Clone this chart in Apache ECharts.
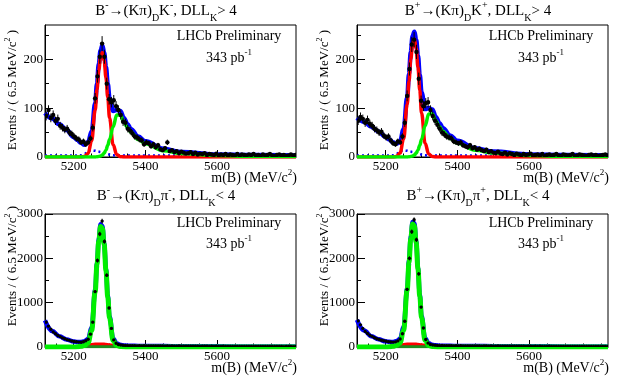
<!DOCTYPE html>
<html>
<head>
<meta charset="utf-8">
<script src="https://cdn.jsdelivr.net/npm/echarts@6.0.0/dist/echarts.min.js"></script>
<style>
  html, body { margin: 0; padding: 0; background: #fff; }
  #chart { width: 623px; height: 376px; }
</style>
</head>
<body>
<div id="chart"></div>
<script>
var serif = "'Liberation Serif', 'Times New Roman', serif";

// histogram binning: 6.5 MeV/c2 bins from 5120
var binStart = 5120, binWidth = 6.5;

// tick labels
var xMajor = [5200, 5400, 5600];
var xMinor = [5150, 5250, 5300, 5350, 5450, 5500, 5550, 5650, 5700, 5750, 5800];
var yMajorTop = [0, 100, 200];
var yMinorTop = [50, 150, 250];
var yMajorBottom = [0, 1000, 2000, 3000];
var yMinorBottom = [500, 1500, 2500];

var panelTitles = [
  '{n|B}{sup|-}{n|→(Kπ)}{sub|D}{n|K}{sup|-}{n|, DLL}{sub|K}{n|> 4}',
  '{n|B}{sup|+}{n|→(Kπ)}{sub|D}{n|K}{sup|+}{n|, DLL}{sub|K}{n|> 4}',
  '{n|B}{sup|-}{n|→(Kπ)}{sub|D}{n|π}{sup|-}{n|, DLL}{sub|K}{n|< 4}',
  '{n|B}{sup|+}{n|→(Kπ)}{sub|D}{n|π}{sup|+}{n|, DLL}{sub|K}{n|< 4}'
];

// data: events per bin
var dkmData = [84, 96, 80, 86, 74, 78, 64, 60, 56, 58,
  50, 47, 42, 38, 36, 30, 32, 26, 30, 38,
  60, 120, 165, 205, 232, 205, 150, 118, 112, 116,
  104, 96, 86, 72, 70, 58, 54, 48, 42, 40,
  36, 34, 26, 30, 28, 22, 26, 20, 24, 16,
  14, 18, 30, 12, 14, 10, 12, 8, 11, 9,
  7, 8, 10, 6, 9, 5, 7, 6, 8, 4,
  6, 5, 4, 7, 3, 5, 4, 6, 3, 5,
  4, 3, 6, 2, 5, 4, 3, 5, 4, 6,
  3, 4, 2, 5, 3, 4, 6, 3, 2, 4,
  5, 3, 4, 2, 3, 5, 3, 4];
var dkpData = [74, 82, 78, 70, 76, 68, 64, 58, 55, 50,
  52, 44, 40, 42, 34, 28, 26, 32, 30, 42,
  70, 125, 180, 230, 240, 215, 160, 115, 104, 110,
  112, 96, 84, 74, 66, 58, 50, 46, 42, 40,
  38, 32, 30, 28, 30, 24, 22, 20, 24, 18,
  20, 15, 17, 14, 12, 15, 10, 12, 9, 8,
  11, 7, 6, 9, 5, 8, 6, 4, 7, 5,
  3, 6, 4, 5, 7, 3, 4, 5, 3, 6,
  2, 4, 5, 3, 4, 6, 3, 2, 5, 4,
  3, 4, 6, 2, 3, 5, 4, 3, 2, 4,
  5, 3, 4, 2, 3, 4, 5, 3];
var dpimData = [560, 470, 400, 340, 300, 260, 235, 205, 185, 165,
  150, 135, 125, 118, 110, 108, 118, 140, 175, 290,
  560, 1250, 1950, 2550, 2840, 2380, 1620, 880, 420, 160,
  85, 55, 45, 38, 34, 30, 32, 28, 30, 26,
  28, 25, 27, 24, 26, 22, 25, 23, 21, 24,
  22, 20, 23, 19, 21, 20, 18, 21, 19, 17,
  20, 18, 16, 19, 17, 18, 15, 17, 16, 18,
  15, 16, 14, 17, 15, 13, 16, 14, 15, 13,
  14, 12, 15, 13, 14, 12, 13, 11, 14, 12,
  13, 11, 12, 10, 13, 11, 12, 10, 11, 12,
  10, 11, 9, 12, 10, 11, 9, 10];
var dpipData = [590, 500, 420, 350, 305, 265, 240, 210, 185, 170,
  152, 140, 130, 120, 112, 110, 116, 138, 180, 300,
  580, 1300, 2000, 2600, 2870, 2420, 1650, 900, 430, 170,
  88, 58, 46, 40, 35, 31, 33, 29, 30, 27,
  29, 26, 28, 25, 27, 23, 26, 24, 22, 25,
  23, 21, 24, 20, 22, 21, 19, 22, 20, 18,
  21, 19, 17, 20, 18, 19, 16, 18, 17, 19,
  16, 17, 15, 18, 16, 14, 17, 15, 16, 14,
  15, 13, 16, 14, 15, 13, 14, 12, 15, 13,
  14, 12, 13, 11, 14, 12, 13, 11, 12, 13,
  11, 12, 10, 13, 11, 12, 10, 11];

// fit curves, read at these masses
var curveMass = [5120, 5140, 5160, 5180, 5200, 5210, 5220, 5230, 5240, 5250,
  5260, 5265, 5270, 5275, 5280, 5285, 5290, 5295, 5300, 5310,
  5320, 5330, 5340, 5350, 5360, 5380, 5400, 5450, 5500, 5600, 5700, 5820];

var dkmTotal = [90, 79, 67, 55, 41, 35, 29, 25, 30, 52, 110, 150, 190, 218, 228, 213, 184, 150, 120, 94, 96, 94, 80, 67, 57, 42, 32, 17, 10, 5, 4, 3];
var dkmRed = [0, 0, 0, 0, 0, 0, 0, 1, 7, 33, 96, 138, 178, 206, 214, 197, 163, 122, 80, 25, 5, 0.7, 0, 0, 0, 0, 0, 0, 0, 0, 0, 0];
var dkmGreen = [0, 0, 0, 0, 0, 0, 0, 0, 0, 0, 0, 0.5, 1, 2, 4, 8, 14, 24, 36, 62, 86, 86, 72, 60, 50, 36, 27, 13, 7, 3, 1.5, 1];
var dkmBkg = [3, 3, 3, 3, 3, 3, 3.5, 6, 12, 14, 13, 12, 11, 10, 9, 8, 7, 6, 5, 3.5, 3, 3, 3, 3, 3, 3, 3, 3, 3, 3, 3, 3];

var dkpTotal = [80, 72, 62, 52, 41, 36, 30, 27, 32, 57, 122, 170, 215, 247, 256, 240, 207, 168, 132, 98, 100, 97, 82, 69, 59, 44, 33, 18, 11, 5, 4, 3];
var dkpRed = [0, 0, 0, 0, 0, 0, 0, 1, 8, 37, 108, 155, 200, 232, 241, 222, 184, 137, 90, 28, 6, 1, 0, 0, 0, 0, 0, 0, 0, 0, 0, 0];
var dkpGreen = [0, 0, 0, 0, 0, 0, 0, 0, 0, 0, 0, 0.5, 1, 2, 4, 8, 14, 24, 36, 64, 88, 88, 74, 62, 52, 38, 28, 14, 8, 3, 1.5, 1];
var dkpBkg = [3, 3, 3, 3, 3, 3, 3.5, 6, 12, 14, 13, 12, 11, 10, 9, 8, 7, 6, 5, 3.5, 3, 3, 3, 3, 3, 3, 3, 3, 3, 3, 3, 3];

var dpimTotal = [600, 360, 240, 170, 125, 115, 112, 130, 180, 430, 1290, 1900, 2440, 2770, 2730, 2350, 1770, 1170, 690, 190, 80, 48, 36, 30, 28, 25, 22, 20, 18, 15, 12, 10];
var dpimGreen = [0, 0, 0, 0, 0, 5, 15, 35, 90, 370, 1250, 1860, 2400, 2720, 2680, 2310, 1730, 1130, 650, 140, 35, 12, 4, 1, 0, 0, 0, 0, 0, 0, 0, 0];
var dpimRed = [0, 0, 0, 0, 0, 2, 10, 24, 40, 52, 60, 62, 64, 64, 62, 60, 56, 50, 44, 32, 22, 14, 8, 3, 0, 0, 0, 0, 0, 0, 0, 0];
var dpimBkg = [10, 10, 10, 10, 12, 14, 18, 24, 30, 36, 40, 40, 40, 40, 40, 38, 36, 34, 32, 26, 20, 15, 12, 10, 10, 10, 10, 10, 10, 10, 10, 10];
var dpimComb = [8, 8, 8, 8, 8, 8, 8, 8, 8, 8, 8, 8, 8, 8, 8, 8, 8, 8, 8, 8, 8, 8, 8, 8, 8, 8, 8, 8, 8, 8, 8, 8];

var dpipTotal = [610, 370, 245, 172, 127, 117, 114, 133, 185, 445, 1320, 1940, 2490, 2820, 2790, 2400, 1800, 1190, 700, 195, 82, 50, 37, 31, 29, 26, 23, 21, 19, 16, 13, 11];
var dpipGreen = [0, 0, 0, 0, 0, 5, 15, 35, 92, 380, 1280, 1900, 2450, 2775, 2735, 2355, 1765, 1150, 660, 145, 36, 12, 4, 1, 0, 0, 0, 0, 0, 0, 0, 0];
var dpipRed = [0, 0, 0, 0, 0, 2, 10, 24, 40, 52, 60, 62, 64, 64, 62, 60, 56, 50, 44, 32, 22, 14, 8, 3, 0, 0, 0, 0, 0, 0, 0, 0];
var dpipBkg = [10, 10, 10, 10, 12, 14, 18, 24, 30, 36, 40, 40, 40, 40, 40, 38, 36, 34, 32, 26, 20, 15, 12, 10, 10, 10, 10, 10, 10, 10, 10, 10];
var dpipComb = [8, 8, 8, 8, 8, 8, 8, 8, 8, 8, 8, 8, 8, 8, 8, 8, 8, 8, 8, 8, 8, 8, 8, 8, 8, 8, 8, 8, 8, 8, 8, 8];

var panels = [
  { left: 45, top: 25, height: 132, yMax: 270, yMajor: yMajorTop, yMinor: yMinorTop, greenWidth: 3.5, dot: 2.2,
    data: dkmData, total: dkmTotal, red: dkmRed, green: dkmGreen, bkg: dkmBkg, comb: null },
  { left: 357, top: 25, height: 132, yMax: 270, yMajor: yMajorTop, yMinor: yMinorTop, greenWidth: 3.5, dot: 2.2,
    data: dkpData, total: dkpTotal, red: dkpRed, green: dkpGreen, bkg: dkpBkg, comb: null },
  { left: 45, top: 214, height: 133, yMax: 3000, yMajor: yMajorBottom, yMinor: yMinorBottom, greenWidth: 5, dot: 1.7,
    data: dpimData, total: dpimTotal, red: dpimRed, green: dpimGreen, bkg: dpimBkg, comb: dpimComb },
  { left: 357, top: 214, height: 133, yMax: 3000, yMajor: yMajorBottom, yMinor: yMinorBottom, greenWidth: 5, dot: 1.7,
    data: dpipData, total: dpipTotal, red: dpipRed, green: dpipGreen, bkg: dpipBkg, comb: dpipComb }
];

function richStyle(size) {
  var small = Math.round(size * 0.64);
  return {
    n: { fontFamily: serif, fontSize: size, padding: [4, 0, 0, 0], verticalAlign: 'top' },
    sup: { fontFamily: serif, fontSize: small, padding: [1, 0, 0, 0], verticalAlign: 'top' },
    sub: { fontFamily: serif, fontSize: small, padding: [size - 1, 0, 0, 0], verticalAlign: 'top' }
  };
}

// text whose main line is centred on cy
function label(x, cy, text, size, align, rotate) {
  var el = {
    type: 'text', x: x, y: cy - (4 + size / 2), silent: true,
    style: { text: text, rich: richStyle(size), fill: '#000', align: align, verticalAlign: 'top' }
  };
  if (rotate) {
    el.rotation = Math.PI / 2;
    el.x = x - (4 + size / 2);
    el.y = cy;
  }
  return el;
}

function plain(v) { return String(v); }

var grids = [], xAxes = [], yAxes = [], series = [], graphics = [];

function curve(gi, vals, color, width, dotted, z) {
  return {
    type: 'line', xAxisIndex: gi * 2, yAxisIndex: gi * 2,
    data: curveMass.map(function (m, i) { return [m, vals[i]]; }),
    smooth: 0.4, smoothMonotone: 'x', symbol: 'none', silent: true,
    lineStyle: { color: color, width: width, type: dotted ? [2, 3] : 'solid' },
    z: z
  };
}

panels.forEach(function (p, gi) {
  grids.push({ left: p.left, top: p.top, width: 251, height: p.height,
    show: true, borderColor: '#000', borderWidth: 1, backgroundColor: 'transparent',
    outerBoundsMode: 'none' });

  xAxes.push({ type: 'value', gridIndex: gi, min: 5120, max: 5820, position: 'bottom',
    axisLine: { show: true, onZero: false, lineStyle: { color: '#000', width: 1 } },
    axisTick: { inside: true, length: 7, customValues: xMajor, lineStyle: { color: '#000' } },
    axisLabel: { customValues: xMajor, formatter: plain, color: '#000', fontFamily: serif, fontSize: 13, margin: 3 },
    splitLine: { show: false } });
  xAxes.push({ type: 'value', gridIndex: gi, min: 5120, max: 5820, position: 'bottom',
    axisLine: { show: false, onZero: false }, axisLabel: { show: false },
    axisTick: { inside: true, length: 3.5, customValues: xMinor, lineStyle: { color: '#000' } },
    splitLine: { show: false } });

  yAxes.push({ type: 'value', gridIndex: gi, min: 0, max: p.yMax, position: 'left',
    axisLine: { show: true, onZero: false, lineStyle: { color: '#000', width: 1 } },
    axisTick: { inside: true, length: 8, customValues: p.yMajor, lineStyle: { color: '#000' } },
    axisLabel: { customValues: p.yMajor, formatter: plain, color: '#000', fontFamily: serif, fontSize: 13, margin: 2 },
    splitLine: { show: false } });
  yAxes.push({ type: 'value', gridIndex: gi, min: 0, max: p.yMax, position: 'left',
    axisLine: { show: false, onZero: false }, axisLabel: { show: false },
    axisTick: { inside: true, length: 4, customValues: p.yMinor, lineStyle: { color: '#000' } },
    splitLine: { show: false } });

  series.push(curve(gi, p.bkg, '#0000ff', 2.5, true, 2));
  series.push(curve(gi, p.total, '#0000ff', 4.5, false, 3));
  series.push(curve(gi, p.red, '#ff0000', 3.5, false, 4));
  if (p.comb) series.push(curve(gi, p.comb, '#1e8c1e', 3, false, 5));
  series.push(curve(gi, p.green, '#00ee00', p.greenWidth, false, 6));

  series.push({
    type: 'custom', xAxisIndex: gi * 2, yAxisIndex: gi * 2, z: 10, silent: true, clip: true,
    data: p.data.map(function (v, i) { return [binStart + binWidth * (i + 0.5), v]; }),
    renderItem: function (params, api) {
      var x = api.value(0), y = api.value(1), e = Math.sqrt(y);
      var c = api.coord([x, y]), lo = api.coord([x, y - e]), hi = api.coord([x, y + e]);
      return { type: 'group', children: [
        { type: 'line', shape: { x1: c[0], y1: lo[1], x2: c[0], y2: hi[1] },
          style: { stroke: '#000', lineWidth: 1 } },
        { type: 'circle', shape: { cx: c[0], cy: c[1], r: p.dot }, style: { fill: '#000' } }
      ] };
    }
  });

  var dx = p.left - 45;
  var isTop = gi < 2;
  graphics.push(label(166 + dx, isTop ? 11 : 196, panelTitles[gi], 15, 'center'));
  graphics.push(label(229 + dx, isTop ? 36 : 223, '{n|LHCb Preliminary}', 14, 'center'));
  graphics.push(label(229 + dx, isTop ? 58 : 244, '{n|343 pb}{sup|-1}', 14, 'center'));
  graphics.push(label(297 + dx, isTop ? 178 : 368, '{n|m(B) (MeV/c}{sup|2}{n|)}', 14, 'right'));
  graphics.push(label(13 + dx, isTop ? 30 : 206, '{n|Events / ( 6.5 MeV/c}{sup|2}{n| )}', 13, 'right', true));
});

var chart = echarts.init(document.getElementById('chart'), null, { renderer: 'canvas' });
chart.setOption({
  animation: false,
  backgroundColor: '#fff',
  grid: grids,
  xAxis: xAxes,
  yAxis: yAxes,
  series: series,
  graphic: { elements: graphics }
});
</script>
</body>
</html>
